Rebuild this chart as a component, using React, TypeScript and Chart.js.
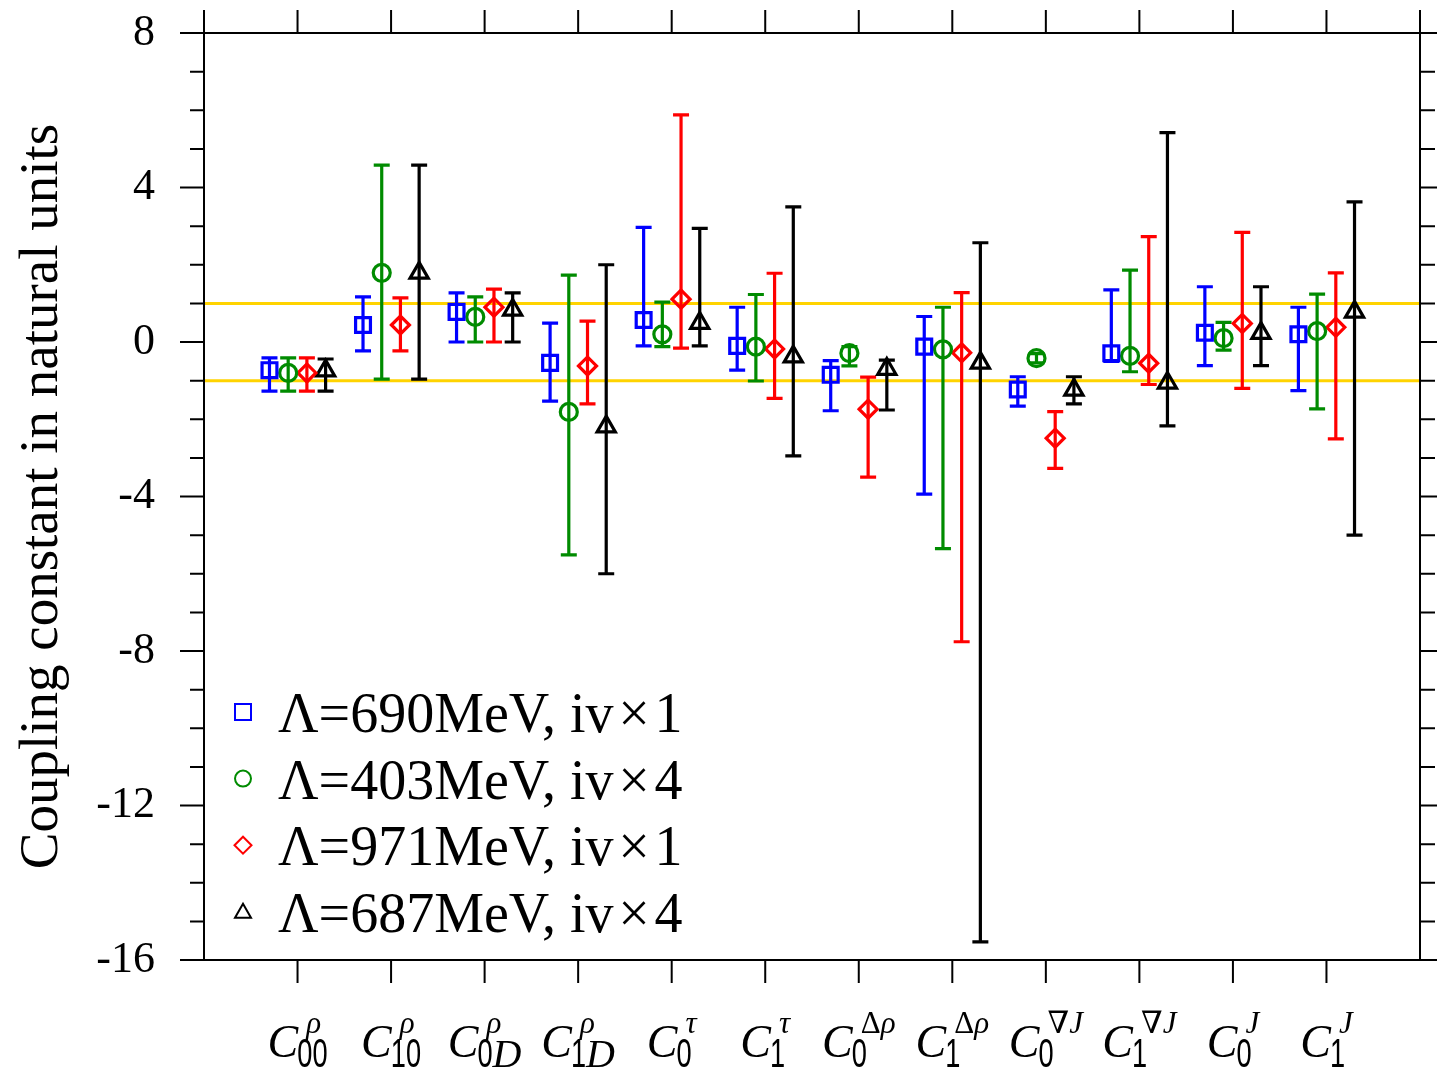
import React, { useEffect, useRef } from 'react';
import { Chart, registerables } from 'chart.js';

Chart.register(...registerables);

// ---------- data ----------
const categorySub = ['00', '10', '0D', '1D', '0', '1', '0', '1', '0', '1', '0', '1'];
const categorySup = ['ρ', 'ρ', 'ρ', 'ρ', 'τ', 'τ', 'Δρ', 'Δρ', '∇J', '∇J', 'J', 'J'];

const seriesLabels = [
  'Λ=690MeV, iv\u200A×\u200A1',
  'Λ=403MeV, iv\u200A×\u200A4',
  'Λ=971MeV, iv\u200A×\u200A1',
  'Λ=687MeV, iv\u200A×\u200A4',
];

const blueValues = [-0.73, 0.44, 0.78, -0.54, 0.57, -0.10, -0.85, -0.12, -1.23, -0.29, 0.24, 0.20];
const blueUpper = [-0.41, 1.17, 1.27, 0.49, 2.97, 0.90, -0.48, 0.66, -0.90, 1.35, 1.43, 0.90];
const blueLower = [-1.27, -0.23, 0.0, -1.53, -0.10, -0.73, -1.78, -3.94, -1.66, -0.50, -0.61, -1.26];

const greenValues = [-0.80, 1.79, 0.65, -1.81, 0.20, -0.12, -0.29, -0.19, -0.42, -0.36, 0.10, 0.28];
const greenUpper = [-0.41, 4.58, 1.17, 1.73, 1.03, 1.23, -0.12, 0.90, -0.30, 1.86, 0.51, 1.24];
const greenLower = [-1.27, -0.96, 0.0, -5.51, -0.12, -1.01, -0.62, -5.35, -0.54, -0.77, -0.21, -1.73];

const redValues = [-0.80, 0.44, 0.90, -0.62, 1.11, -0.18, -1.74, -0.28, -2.49, -0.55, 0.48, 0.38];
const redUpper = [-0.41, 1.14, 1.37, 0.54, 5.88, 1.78, -0.91, 1.28, -1.80, 2.73, 2.84, 1.79];
const redLower = [-1.27, -0.23, 0.0, -1.60, -0.16, -1.46, -3.50, -7.76, -3.27, -1.10, -1.20, -2.51];

const blackValues = [-0.74, 1.79, 0.83, -2.19, 0.49, -0.38, -0.70, -0.54, -1.24, -1.06, 0.23, 0.78];
const blackUpper = [-0.44, 4.58, 1.27, 2.00, 2.94, 3.50, -0.47, 2.57, -0.90, 5.42, 1.43, 3.63];
const blackLower = [-1.27, -0.96, 0.0, -6.00, -0.10, -2.95, -1.76, -15.53, -1.60, -2.17, -0.61, -5.00];

const yMajorTicks = [8, 4, 0, -4, -8, -12, -16];
const referenceLines = [1, -1];
const yAxisTitle = 'Coupling constant in natural units';

// ---------- styles ----------
const seriesOffsets = [-0.3, -0.1, 0.1, 0.3];
const seriesColors = ['#0000FF', '#008B00', '#FF0000', '#000000'];
const seriesStyles = ['rect', 'circle', 'rectRot', 'triangle'];
const seriesRadius = [10.5, 8.5, 9, 10.5];

const series = [
  { values: blueValues, upper: blueUpper, lower: blueLower },
  { values: greenValues, upper: greenUpper, lower: greenLower },
  { values: redValues, upper: redUpper, lower: redLower },
  { values: blackValues, upper: blackUpper, lower: blackLower },
];

const SERIF = '"Liberation Serif", "DejaVu Serif", serif';
const SANS = '"Liberation Sans", "DejaVu Sans", sans-serif';

function charStyle(ch: string, size: number) {
  if (/[0-9]/.test(ch)) return { font: `${size}px ${SANS}`, sx: 0.68 };
  if (ch === 'Δ' || ch === '∇') return { font: `${size}px ${SERIF}`, sx: 1 };
  return { font: `italic ${size}px ${SERIF}`, sx: 1 };
}

function measureStr(ctx: CanvasRenderingContext2D, s: string, size: number) {
  let w = 0;
  for (const ch of s) {
    const st = charStyle(ch, size);
    ctx.font = st.font;
    w += ctx.measureText(ch).width * st.sx;
  }
  return w;
}

function drawStr(ctx: CanvasRenderingContext2D, s: string, size: number, x: number, y: number) {
  let cx = x;
  for (const ch of s) {
    const st = charStyle(ch, size);
    ctx.font = st.font;
    const w = ctx.measureText(ch).width;
    ctx.save();
    ctx.translate(cx, y);
    ctx.scale(st.sx, 1);
    ctx.fillText(ch, 0, 0);
    ctx.restore();
    cx += w * st.sx;
  }
}

function drawLegendMarker(ctx: CanvasRenderingContext2D, style: string, x: number, y: number) {
  ctx.beginPath();
  if (style === 'rect') {
    ctx.rect(x - 8, y - 8, 16, 16);
  } else if (style === 'circle') {
    ctx.arc(x, y, 8, 0, Math.PI * 2);
  } else if (style === 'rectRot') {
    ctx.moveTo(x - 8.5, y);
    ctx.lineTo(x, y - 8.5);
    ctx.lineTo(x + 8.5, y);
    ctx.lineTo(x, y + 8.5);
    ctx.closePath();
  } else {
    ctx.moveTo(x, y - 8);
    ctx.lineTo(x + 8, y + 6);
    ctx.lineTo(x - 8, y + 6);
    ctx.closePath();
  }
  ctx.stroke();
}

const customPlugin = {
  id: 'customPlot',
  beforeDatasetsDraw(chart: any) {
    const { ctx, chartArea: a } = chart;
    const xs = chart.scales.x;
    const ys = chart.scales.y;
    ctx.save();
    ctx.strokeStyle = '#FFD300';
    ctx.lineWidth = 3;
    referenceLines.forEach((v) => {
      const py = ys.getPixelForValue(v);
      ctx.beginPath();
      ctx.moveTo(a.left, py);
      ctx.lineTo(a.right, py);
      ctx.stroke();
    });
    series.forEach((s, si) => {
      ctx.strokeStyle = seriesColors[si];
      ctx.lineWidth = 3.2;
      ctx.lineCap = 'butt';
      s.values.forEach((_v, i) => {
        const px = xs.getPixelForValue(i + 1 + seriesOffsets[si]);
        const pt = ys.getPixelForValue(s.upper[i]);
        const pb = ys.getPixelForValue(s.lower[i]);
        ctx.beginPath();
        ctx.moveTo(px, pt);
        ctx.lineTo(px, pb);
        ctx.moveTo(px - 8, pt);
        ctx.lineTo(px + 8, pt);
        ctx.moveTo(px - 8, pb);
        ctx.lineTo(px + 8, pb);
        ctx.stroke();
      });
    });
    ctx.restore();
  },
  afterDraw(chart: any) {
    const { ctx, chartArea: a } = chart;
    const xs = chart.scales.x;
    const ys = chart.scales.y;
    ctx.save();
    ctx.strokeStyle = '#000';
    ctx.fillStyle = '#000';
    ctx.lineWidth = 2;
    ctx.lineCap = 'butt';
    // frame
    ctx.strokeRect(a.left, a.top, a.right - a.left, a.bottom - a.top);
    // y ticks
    ctx.beginPath();
    for (let v = ys.min; v <= ys.max; v += 1) {
      const py = ys.getPixelForValue(v);
      const major = yMajorTicks.includes(v);
      ctx.moveTo(a.left - (major ? 24 : 14), py);
      ctx.lineTo(a.left, py);
      ctx.moveTo(a.right, py);
      ctx.lineTo(a.right + (major ? 24 : 15), py);
    }
    // x ticks
    for (let k = xs.min; k <= xs.max; k += 1) {
      const px = xs.getPixelForValue(k);
      ctx.moveTo(px, a.top - 23);
      ctx.lineTo(px, a.top);
      if (k >= 1 && k <= categorySub.length) {
        ctx.moveTo(px, a.bottom);
        ctx.lineTo(px, a.bottom + 23);
      }
    }
    ctx.stroke();

    // y tick labels
    ctx.font = `44px ${SERIF}`;
    ctx.textAlign = 'right';
    ctx.textBaseline = 'middle';
    yMajorTicks.forEach((v) => {
      ctx.fillText(String(v), a.left - 49, ys.getPixelForValue(v));
    });

    // y title
    ctx.save();
    ctx.translate(57, (a.top + a.bottom) / 2);
    ctx.rotate(-Math.PI / 2);
    ctx.font = `55px ${SERIF}`;
    ctx.textAlign = 'center';
    ctx.textBaseline = 'alphabetic';
    ctx.fillText(yAxisTitle, 0, 0);
    ctx.restore();

    // x category labels (math)
    ctx.textAlign = 'left';
    ctx.textBaseline = 'alphabetic';
    const cBase = a.bottom + 97;
    const subBase = a.bottom + 107;
    const supBase = a.bottom + 73;
    categorySub.forEach((sub, i) => {
      const sup = categorySup[i];
      ctx.font = `italic 46px ${SERIF}`;
      const cW = ctx.measureText('C').width;
      const subW = measureStr(ctx, sub, 40);
      const supW = measureStr(ctx, sup, 31);
      const subOff = cW - 1;
      const supOff = cW + 8;
      const total = Math.max(subOff + subW, supOff + supW);
      const x0 = xs.getPixelForValue(i + 1) - total / 2;
      ctx.font = `italic 46px ${SERIF}`;
      ctx.fillText('C', x0, cBase);
      drawStr(ctx, sub, 40, x0 + subOff, subBase);
      drawStr(ctx, sup, 31, x0 + supOff, supBase);
    });

    // legend
    ctx.lineWidth = 2;
    seriesLabels.forEach((lab, r) => {
      const cy = a.top + 679 + r * 66.6;
      ctx.strokeStyle = seriesColors[r];
      drawLegendMarker(ctx, seriesStyles[r], a.left + 39, cy);
      ctx.fillStyle = '#000';
      ctx.font = `56px ${SERIF}`;
      ctx.textAlign = 'left';
      ctx.textBaseline = 'alphabetic';
      ctx.fillText(lab, a.left + 74, cy + 20);
    });
    ctx.restore();
  },
};

export default function App() {
  const canvasRef = useRef<HTMLCanvasElement | null>(null);

  useEffect(() => {
    const canvas = canvasRef.current;
    if (!canvas) return;
    const chart = new Chart(canvas, {
      type: 'scatter',
      data: {
        datasets: series.map((s, si) => ({
          label: seriesLabels[si],
          data: s.values.map((v, i) => ({ x: i + 1 + seriesOffsets[si], y: v })),
          pointStyle: seriesStyles[si] as any,
          pointRadius: seriesRadius[si],
          pointBorderWidth: 3.2,
          borderColor: seriesColors[si],
          pointBorderColor: seriesColors[si],
          backgroundColor: 'rgba(0,0,0,0)',
          pointBackgroundColor: 'rgba(0,0,0,0)',
          showLine: false,
          clip: false as any,
        })),
      },
      options: {
        animation: false,
        responsive: false,
        devicePixelRatio: 1,
        events: [],
        layout: { padding: { left: 204, right: 17, top: 33, bottom: 109 } },
        plugins: { legend: { display: false }, tooltip: { enabled: false } },
        scales: {
          x: { type: 'linear', min: 0, max: 13, display: false },
          y: { type: 'linear', min: -16, max: 8, display: false },
        },
      },
      plugins: [customPlugin],
    });
    return () => chart.destroy();
  }, []);

  return (
    <div style={{ position: 'absolute', left: 0, top: 0, width: 1437, height: 1069, background: '#fff' }}>
      <canvas ref={canvasRef} width={1437} height={1069} style={{ display: 'block' }} />
    </div>
  );
}
